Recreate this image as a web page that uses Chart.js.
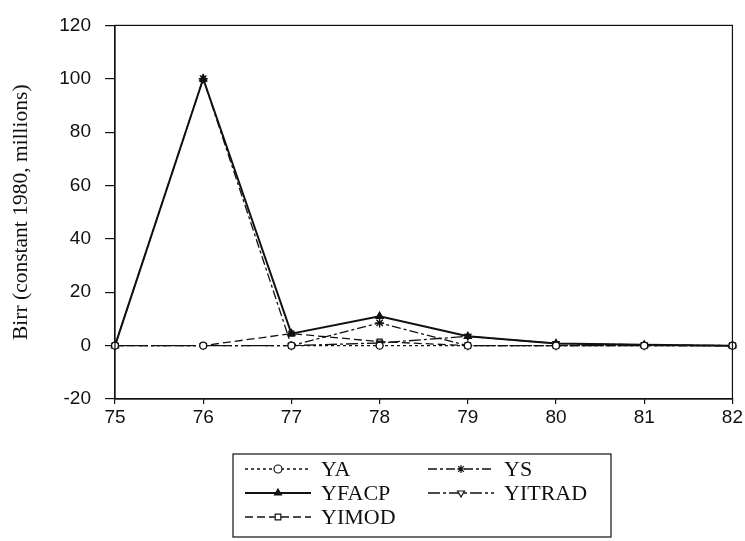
<!DOCTYPE html>
<html>
<head>
<meta charset="utf-8">
<script src="https://cdn.jsdelivr.net/npm/chart.js@4/dist/chart.umd.min.js"></script>
<style>
  html, body { margin: 0; padding: 0; background: #fff; }
  #wrap { width: 745px; height: 541px; }
</style>
</head>
<body>
<div id="wrap"><canvas id="chart" width="745" height="541"></canvas></div>
<script>
// ==========================
// Data
// ==========================

const years = ["75", "76", "77", "78", "79", "80", "81", "82"];

const ya = [0, 0, 0, 0, 0, 0, 0, 0];
const ys = [0, 100, 0, 8.5, 0, 0, 0, 0];
const yfacp = [0, 100, 4.5, 11, 3.5, 0.8, 0.3, 0];
const yitrad = [0, 0, 0, 1, 3.5, 0.8, 0.3, 0];
const yimod = [0, 0, 4.5, 1.5, 0, 0, 0, 0];

const yTicks = [-20, 0, 20, 40, 60, 80, 100, 120];

// ==========================
// Plugins
// ==========================

// box round the plot area
const frame = {
  id: "frame",
  afterDatasetsDraw(chart) {
    const { ctx, chartArea: a } = chart;
    ctx.save();
    ctx.strokeStyle = "#111";
    ctx.lineWidth = 1.2;
    ctx.strokeRect(a.left, a.top, a.right - a.left, a.bottom - a.top);
    ctx.restore();
  },
};

// boxed legend with line samples under the chart
const boxLegend = {
  id: "boxLegend",
  afterDraw(chart) {
    const { ctx } = chart;
    const box = { x: 233, y: 454, w: 378, h: 83 };
    ctx.save();
    ctx.strokeStyle = "#111";
    ctx.lineWidth = 1.2;
    ctx.strokeRect(box.x, box.y, box.w, box.h);

    const slots = [
      { x: 245, y: 469 },
      { x: 245, y: 493 },
      { x: 245, y: 517 },
      { x: 428, y: 469 },
      { x: 428, y: 493 },
    ];
    // order in the box: YA, YFACP, YIMOD | YS, YITRAD
    const order = [0, 2, 4, 1, 3];

    order.forEach((di, i) => {
      const ds = chart.data.datasets[di];
      const s = slots[i];
      const len = 66;
      ctx.strokeStyle = "#111";
      ctx.lineWidth = ds.borderWidth + 0.2;
      ctx.setLineDash(ds.borderDash || []);
      ctx.beginPath();
      ctx.moveTo(s.x, s.y);
      ctx.lineTo(s.x + len, s.y);
      ctx.stroke();
      ctx.setLineDash([]);
      ctx.fillStyle = ds.pointBackgroundColor;
      ctx.lineWidth = 1.2;
      Chart.helpers.drawPoint(
        ctx,
        {
          pointStyle: ds.pointStyle,
          radius: 4,
          rotation: ds.pointRotation || 0,
          borderWidth: 1.2,
        },
        s.x + len / 2,
        s.y
      );
      ctx.fillStyle = "#111";
      ctx.font = "22px 'Liberation Serif', 'Times New Roman', serif";
      ctx.textBaseline = "middle";
      ctx.fillText(ds.label, s.x + len + 10, s.y + 1);
    });
    ctx.restore();
  },
};

// ==========================
// Chart
// ==========================

const black = "#111";

function series(label, data, opts) {
  return Object.assign(
    {
      label: label,
      data: data,
      borderColor: black,
      backgroundColor: "#fff",
      pointBorderColor: black,
      pointBackgroundColor: "#fff",
      borderWidth: 1.3,
      pointRadius: 3.5,
      pointBorderWidth: 1.4,
      tension: 0,
      fill: false,
    },
    opts
  );
}

new Chart(document.getElementById("chart"), {
  type: "line",

  data: {
    labels: years,

    datasets: [
      series("YA", ya, { borderDash: [3, 3], pointStyle: "circle" }),
      series("YS", ys, {
        borderDash: [9, 3, 3, 3],
        pointStyle: "star",
        pointRadius: 4.5,
      }),
      series("YFACP", yfacp, {
        borderWidth: 2,
        pointStyle: "triangle",
        pointBackgroundColor: black,
        pointRadius: 4,
      }),
      series("YITRAD", yitrad, {
        borderDash: [12, 3, 3, 3],
        pointStyle: "triangle",
        pointRotation: 180,
      }),
      series("YIMOD", yimod, { borderDash: [8, 4], pointStyle: "rect" }),
    ],
  },

  options: {
    responsive: false,
    animation: false,

    layout: {
      padding: { top: 25, right: 10, bottom: 102, left: 0 },
    },

    plugins: {
      legend: { display: false },
      tooltip: { enabled: false },
    },

    scales: {
      x: {
        offset: false,
        afterFit(scale) {
          scale.height = 40;
        },
        grid: {
          drawOnChartArea: false,
          tickLength: 5,
          color: black,
          lineWidth: 1.2,
        },
        border: { color: black, width: 1.2 },
        ticks: {
          color: black,
          padding: 2,
          maxRotation: 0,
          font: { family: "'Liberation Sans', Arial, sans-serif", size: 19 },
        },
      },

      y: {
        min: -20,
        max: 120,
        afterFit(scale) {
          scale.width = 115;
        },
        afterBuildTicks(scale) {
          scale.ticks = yTicks.map((v) => ({ value: v }));
        },
        grid: {
          drawOnChartArea: false,
          tickLength: 10,
          color: black,
          lineWidth: 1.2,
        },
        border: { color: black, width: 1.2 },
        ticks: {
          color: black,
          padding: 14,
          font: { family: "'Liberation Sans', Arial, sans-serif", size: 19 },
        },
        title: {
          display: true,
          text: "Birr (constant 1980, millions)",
          color: black,
          padding: { top: 8, bottom: 0 },
          font: {
            family: "'Liberation Serif', 'Times New Roman', serif",
            size: 21.5,
          },
        },
      },
    },
  },

  plugins: [frame, boxLegend],
});
</script>
</body>
</html>
